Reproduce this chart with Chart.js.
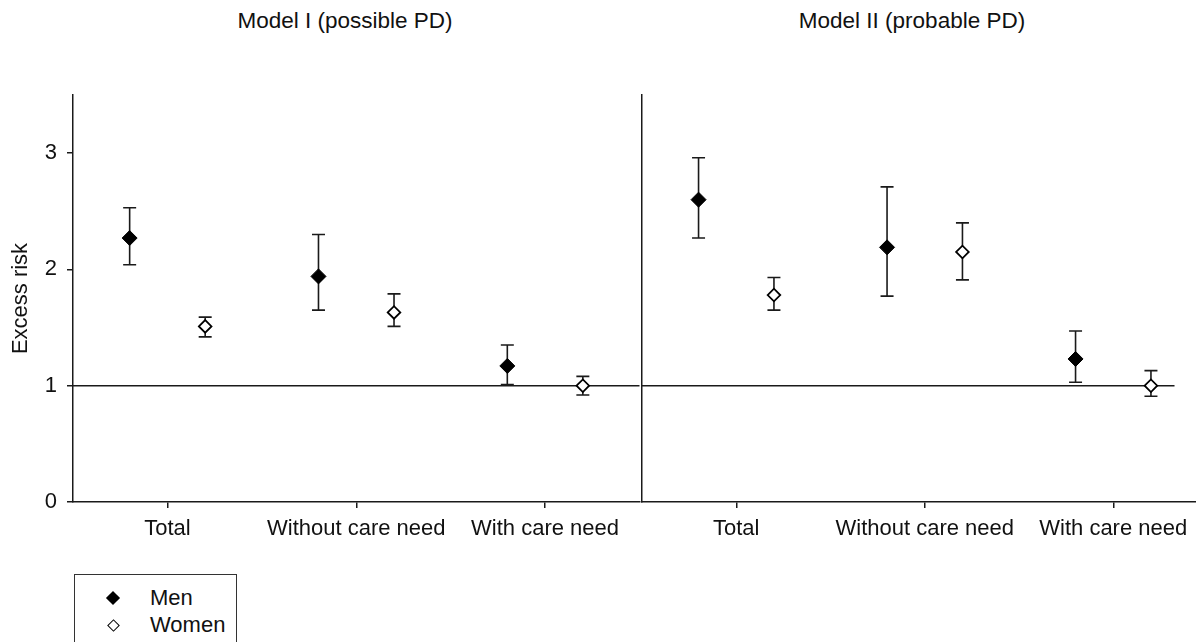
<!DOCTYPE html>
<html>
<head>
<meta charset="utf-8">
<script src="https://cdn.jsdelivr.net/npm/chart.js@4/dist/chart.umd.min.js"></script>
<style>
  html, body { margin:0; padding:0; width:1196px; height:642px; overflow:hidden; background:#fff; font-family:"Liberation Sans", Arial, sans-serif; color:#111; }
  .box { position:absolute; }
  .ptitle { position:absolute; top:8px; font-size:22.5px; line-height:26px; white-space:nowrap; transform:translateX(-50%); color:#111; }
  #legend { position:absolute; left:74px; top:574px; width:163px; height:100px; border:1.3px solid #333; box-sizing:border-box; }
  .lrow { position:absolute; left:0; font-size:22px; line-height:26px; }
  .sym { position:absolute; left:33px; top:8px; width:10px; height:10px; transform:rotate(45deg); box-sizing:border-box; }
  .ltxt { position:absolute; left:75px; top:0; white-space:nowrap; }
</style>
</head>
<body>
<div class="ptitle" style="left:345px">Model I (possible PD)</div>
<div class="ptitle" style="left:912px">Model II (probable PD)</div>

<div class="box" style="left:0; top:0; width:648px; height:560px;"><canvas id="c1"></canvas></div>
<div class="box" style="left:600px; top:0; width:616px; height:560px;"><canvas id="c2"></canvas></div>

<div id="legend">
  <div class="lrow" style="top:10px"><div class="sym" style="background:#000;"></div><span class="ltxt">Men</span></div>
  <div class="lrow" style="top:37px"><div class="sym" style="border:1.6px solid #000; background:#fff; width:9px; height:9px; left:34px; top:9px;"></div><span class="ltxt">Women</span></div>
</div>

<script>
// ---- data ----
const categories = ['Total', 'Without care need', 'With care need'];
const yTicks = [0, 1, 2, 3];
const panelTitles = ['Model I (possible PD)', 'Model II (probable PD)'];
const seriesNames = ['Men', 'Women'];

const m1Men      = [2.27, 1.94, 1.17];
const m1MenLow   = [2.04, 1.65, 1.01];
const m1MenHigh  = [2.53, 2.30, 1.35];
const m1Women     = [1.51, 1.63, 1.00];
const m1WomenLow  = [1.42, 1.51, 0.92];
const m1WomenHigh = [1.59, 1.79, 1.08];

const m2Men      = [2.60, 2.19, 1.23];
const m2MenLow   = [2.27, 1.77, 1.03];
const m2MenHigh  = [2.96, 2.71, 1.47];
const m2Women     = [1.78, 2.15, 1.00];
const m2WomenLow  = [1.65, 1.91, 0.91];
const m2WomenHigh = [1.93, 2.40, 1.13];

const referenceValue = 1;
const referenceEnd = [3, 2.825];

// ---- helpers ----
const FONT = "'Liberation Sans', Arial, sans-serif";
const INK = '#1a1a1a';
const OFFSET = 0.2;

function pts(vals, off) { return vals.map((v, i) => ({ x: i + 0.5 + off, y: v })); }

const errorBars = {
  id: 'errorBars',
  beforeDatasetsDraw(chart) {
    const ctx = chart.ctx, ys = chart.scales.y;
    ctx.save();
    ctx.strokeStyle = INK;
    ctx.lineWidth = 1.6;
    chart.data.datasets.forEach((ds, di) => {
      if (!ds.lows) return;
      const meta = chart.getDatasetMeta(di);
      meta.data.forEach((el, j) => {
        const x = el.x, y1 = ys.getPixelForValue(ds.lows[j]), y2 = ys.getPixelForValue(ds.highs[j]);
        ctx.beginPath();
        ctx.moveTo(x, y1); ctx.lineTo(x, y2);
        ctx.moveTo(x - 6.5, y1); ctx.lineTo(x + 6.5, y1);
        ctx.moveTo(x - 6.5, y2); ctx.lineTo(x + 6.5, y2);
        ctx.stroke();
      });
    });
    ctx.restore();
  }
};

function makeChart(id, men, menLo, menHi, women, womenLo, womenHi, refEnd, showY) {
  return new Chart(document.getElementById(id), {
    type: 'scatter',
    data: {
      datasets: [
        { label: seriesNames[0], data: pts(men, -OFFSET), lows: menLo, highs: menHi,
          pointStyle: 'rectRot', pointRadius: 7.5, pointHoverRadius: 7.5,
          backgroundColor: '#000', borderColor: '#000', borderWidth: 1, order: 1 },
        { label: seriesNames[1], data: pts(women, OFFSET), lows: womenLo, highs: womenHi,
          pointStyle: 'rectRot', pointRadius: 6.3, pointHoverRadius: 6.3,
          backgroundColor: '#fff', borderColor: '#000', borderWidth: 1.8, order: 0 },
        { type: 'line', label: 'ref', data: [{ x: 0, y: referenceValue }, { x: refEnd, y: referenceValue }],
          borderColor: INK, borderWidth: 1.5, pointRadius: 0, fill: false, order: 5, clip: false }
      ]
    },
    options: {
      responsive: true,
      maintainAspectRatio: false,
      animation: false,
      events: [],
      layout: { padding: { left: 0, right: 2, top: 95, bottom: 0 } },
      plugins: { legend: { display: false }, tooltip: { enabled: false }, title: { display: false } },
      scales: {
        x: {
          type: 'linear', min: 0, max: 3,
          afterBuildTicks: s => { s.ticks = categories.map((c, i) => ({ value: i + 0.5 })); },
          afterFit: s => { s.height = 58; },
          ticks: { callback: (v) => categories[Math.floor(v)], color: '#111', font: { family: FONT, size: 22 }, padding: 8, maxRotation: 0, autoSkip: false },
          grid: { drawOnChartArea: false, drawTicks: true, tickLength: 6, color: INK, lineWidth: 1.5 },
          border: { display: true, color: INK, width: 1.5 }
        },
        y: {
          min: 0, max: 3.5,
          afterBuildTicks: s => { s.ticks = yTicks.map(v => ({ value: v })); },
          afterFit: s => { s.width = showY ? 73 : 42; },
          ticks: { display: showY, color: '#111', font: { family: FONT, size: 22 }, padding: 10 },
          grid: { drawOnChartArea: false, drawTicks: showY, tickLength: 6, color: INK, lineWidth: 1.5 },
          border: { display: true, color: INK, width: 1.5 },
          title: { display: showY, text: 'Excess risk', color: '#111', font: { family: FONT, size: 22 }, padding: { top: 8, bottom: 0 } }
        }
      }
    },
    plugins: [errorBars]
  });
}

makeChart('c1', m1Men, m1MenLow, m1MenHigh, m1Women, m1WomenLow, m1WomenHigh, referenceEnd[0], true);
makeChart('c2', m2Men, m2MenLow, m2MenHigh, m2Women, m2WomenLow, m2WomenHigh, referenceEnd[1], false);
</script>
</body>
</html>
